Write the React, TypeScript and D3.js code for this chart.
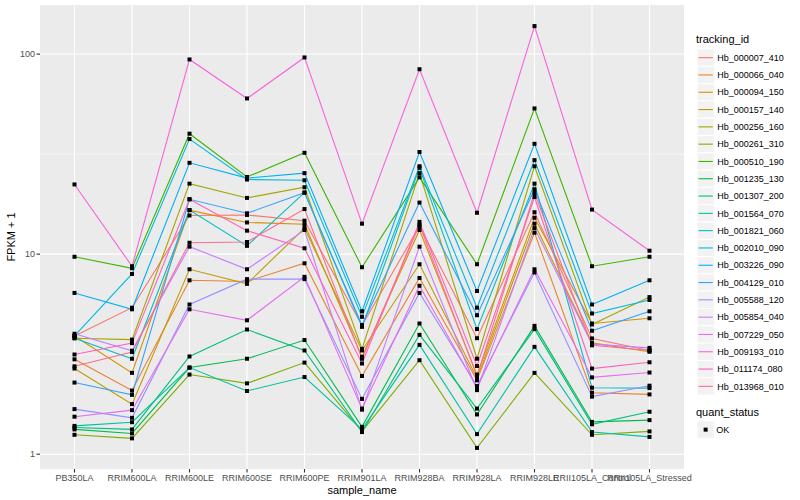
import * as d3 from "d3";

const samples = [
  "PB350LA", "RRIM600LA", "RRIM600LE", "RRIM600SE", "RRIM600PE", "RRIM901LA",
  "RRIM928BA", "RRIM928LA", "RRIM928LE", "RRII105LA_Control", "RRII105LA_Stressed",
];

const trackingIds = [
  "Hb_000007_410", "Hb_000066_040", "Hb_000094_150", "Hb_000157_140", "Hb_000256_160",
  "Hb_000261_310", "Hb_000510_190", "Hb_001235_130", "Hb_001307_200", "Hb_001564_070",
  "Hb_001821_060", "Hb_002010_090", "Hb_003226_090", "Hb_004129_010", "Hb_005588_120",
  "Hb_005854_040", "Hb_007229_050", "Hb_009193_010", "Hb_011174_080", "Hb_013968_010",
];

const hueColors = [
  "#F8766D", "#EA8331", "#D89000", "#C09B00", "#A3A500", "#7CAE00", "#39B600",
  "#00BB4E", "#00BF7D", "#00C1A3", "#00BFC4", "#00BAE0", "#00B0F6", "#35A2FF",
  "#9590FF", "#C77CFF", "#E76BF3", "#FA62DB", "#FF62BC", "#FF6C91",
];

// FPKM + 1, one array per gene, in sample order
const hb000007 = [3.9, 5.4, 15.6, 15.7, 14.7, 4.4, 13.8, 3.8, 16.2, 3.79, 3.3];
const hb000066 = [2.98, 2.08, 7.4, 7.3, 9.0, 2.46, 7.6, 2.34, 12.8, 2.03, 1.99];
const hb000094 = [3.9, 2.55, 16.6, 14.4, 14.1, 3.07, 13.2, 2.5, 15.2, 4.5, 4.78];
const hb000157 = [2.68, 1.78, 8.4, 7.1, 13.5, 3.3, 8.9, 2.4, 14.2, 3.6, 3.25];
const hb000256 = [3.8, 3.74, 22.5, 19.1, 21.6, 3.36, 25.4, 3.0, 27.5, 4.45, 6.1];
const hb000261 = [1.25, 1.2, 2.5, 2.26, 2.87, 1.3, 2.95, 1.075, 2.55, 1.25, 1.3];
const hb000510 = [9.7, 8.5, 40, 24.3, 32.1, 8.6, 24.2, 8.9, 53.5, 8.7, 9.7];
const hb001235 = [1.33, 1.27, 2.71, 3.0, 3.72, 1.37, 4.5, 1.58, 4.38, 1.45, 1.48];
const hb001307 = [1.36, 1.33, 3.08, 4.2, 3.3, 1.29, 3.95, 1.69, 4.22, 1.41, 1.63];
const hb001564 = [1.385, 1.445, 2.71, 2.07, 2.43, 1.33, 3.52, 1.26, 3.44, 1.29, 1.22];
const hb001821 = [3.8, 3.0, 16.6, 11.0, 20.3, 4.33, 27.0, 4.22, 22.5, 2.15, 2.14];
const hb002010 = [3.9, 7.96, 37.6, 23.6, 23.4, 4.86, 27.5, 5.4, 29.5, 5.05, 5.9];
const hb003226 = [6.4, 5.3, 28.6, 24.0, 25.4, 5.18, 32.4, 6.54, 35.6, 5.6, 7.4];
const hb004129 = [2.28, 1.98, 18.8, 16.0, 20.3, 4.42, 18.1, 4.95, 21.1, 4.14, 5.18];
const hb005588 = [1.68, 1.52, 5.6, 7.5, 7.5, 1.89, 6.4, 2.19, 8.1, 1.94, 2.2];
const hb005854 = [4.0, 3.29, 10.9, 8.4, 13.2, 1.67, 10.9, 2.09, 13.5, 3.55, 3.4];
const hb007229 = [1.54, 1.66, 5.3, 4.67, 7.7, 1.69, 6.95, 2.15, 8.4, 2.42, 2.56];
const hb009193 = [22.3, 8.7, 94, 60, 96.2, 14.2, 84, 16.1, 138, 16.7, 10.4];
const hb011174 = [3.15, 3.59, 18.8, 13.1, 10.7, 2.84, 14.5, 2.76, 19.3, 2.68, 2.88];
const hb013968 = [2.75, 3.24, 11.4, 11.5, 16.8, 3.0, 14.0, 2.45, 20.2, 3.5, 3.3];

const seriesValues = [
  hb000007, hb000066, hb000094, hb000157, hb000256, hb000261, hb000510,
  hb001235, hb001307, hb001564, hb001821, hb002010, hb003226, hb004129,
  hb005588, hb005854, hb007229, hb009193, hb011174, hb013968,
];

const yTicks = [1, 10, 100];
const yMinor = [Math.sqrt(10), Math.sqrt(1000)];

const W = 800;
const H = 500;
const panel = { left: 40, right: 684, top: 5, bottom: 469 };
const font = "'Liberation Sans', Arial, Helvetica, sans-serif";

export default function App() {
  const x = d3.scalePoint<string>().domain(samples).range([panel.left, panel.right]).padding(0.6);

  const all = seriesValues.flat();
  const lmin = Math.log10(d3.min(all)!);
  const lmax = Math.log10(d3.max(all)!);
  const pad = (lmax - lmin) * 0.05;
  const y = d3.scaleLog()
    .domain([Math.pow(10, lmin - pad), Math.pow(10, lmax + pad)])
    .range([panel.bottom, panel.top]);

  const line = d3.line<number>()
    .x((_, i) => x(samples[i])!)
    .y((d) => y(d));

  const legendX = 697;
  const keySize = 17.3;
  const keyTop = 49;
  const qsTop = 421;

  return (
    <svg width={W} height={H} style={{ position: "absolute", left: 0, top: 0, background: "#fff" }}
      fontFamily={font}>
      <rect x={panel.left} y={panel.top} width={panel.right - panel.left}
        height={panel.bottom - panel.top} fill="#EBEBEB" />
      {yMinor.map((v) => (
        <line key={"mn" + v} x1={panel.left} x2={panel.right} y1={y(v)} y2={y(v)}
          stroke="#fff" strokeWidth={0.55} />
      ))}
      {yTicks.map((v) => (
        <line key={"mj" + v} x1={panel.left} x2={panel.right} y1={y(v)} y2={y(v)}
          stroke="#fff" strokeWidth={1.1} />
      ))}
      {samples.map((s) => (
        <line key={"vg" + s} x1={x(s)} x2={x(s)} y1={panel.top} y2={panel.bottom}
          stroke="#fff" strokeWidth={1.1} />
      ))}

      {seriesValues.map((vals, i) => (
        <path key={"ln" + i} d={line(vals)!} fill="none" stroke={hueColors[i]} strokeWidth={1.1} />
      ))}
      {seriesValues.map((vals, i) =>
        vals.map((v, j) => (
          <rect key={"pt" + i + "_" + j} x={x(samples[j])! - 2} y={y(v) - 2} width={4} height={4}
            fill="#000" />
        ))
      )}

      {/* y axis */}
      {yTicks.map((v) => (
        <g key={"yt" + v}>
          <line x1={panel.left - 3.5} x2={panel.left} y1={y(v)} y2={y(v)} stroke="#333" strokeWidth={1.1} />
          <text x={panel.left - 5} y={y(v)} dy="0.35em" textAnchor="end" fontSize={9} fill="#4D4D4D">
            {v}
          </text>
        </g>
      ))}
      {/* x axis */}
      {samples.map((s) => (
        <g key={"xt" + s}>
          <line x1={x(s)} x2={x(s)} y1={panel.bottom} y2={panel.bottom + 3.5} stroke="#333" strokeWidth={1.1} />
          <text x={x(s)} y={panel.bottom + 12} textAnchor="middle" fontSize={9} fill="#4D4D4D">
            {s}
          </text>
        </g>
      ))}
      <text x={(panel.left + panel.right) / 2} y={494} textAnchor="middle" fontSize={11} fill="#000">
        sample_name
      </text>
      <text transform={`translate(15,${(panel.top + panel.bottom) / 2}) rotate(-90)`} textAnchor="middle"
        fontSize={11} fill="#000">
        FPKM + 1
      </text>

      {/* legend: tracking_id */}
      <text x={legendX - 1} y={43} fontSize={11} fill="#000">tracking_id</text>
      {trackingIds.map((id, i) => {
        const ky = keyTop + i * keySize;
        return (
          <g key={"lg" + id}>
            <rect x={legendX} y={ky} width={keySize} height={keySize} fill="#F2F2F2" stroke="#fff" strokeWidth={1} />
            <line x1={legendX + 1.5} x2={legendX + keySize - 1.5} y1={ky + keySize / 2} y2={ky + keySize / 2}
              stroke={hueColors[i]} strokeWidth={1.1} />
            <text x={legendX + keySize + 3} y={ky + keySize / 2} dy="0.35em" fontSize={9} fill="#000">
              {id}
            </text>
          </g>
        );
      })}

      {/* legend: quant_status */}
      <text x={legendX - 1} y={416} fontSize={11} fill="#000">quant_status</text>
      <rect x={legendX} y={qsTop} width={keySize} height={keySize} fill="#F2F2F2" stroke="#fff" strokeWidth={1} />
      <rect x={legendX + keySize / 2 - 2} y={qsTop + keySize / 2 - 2} width={4} height={4} fill="#000" />
      <text x={legendX + keySize + 2} y={qsTop + keySize / 2} dy="0.35em" fontSize={9} fill="#000">OK</text>
    </svg>
  );
}
